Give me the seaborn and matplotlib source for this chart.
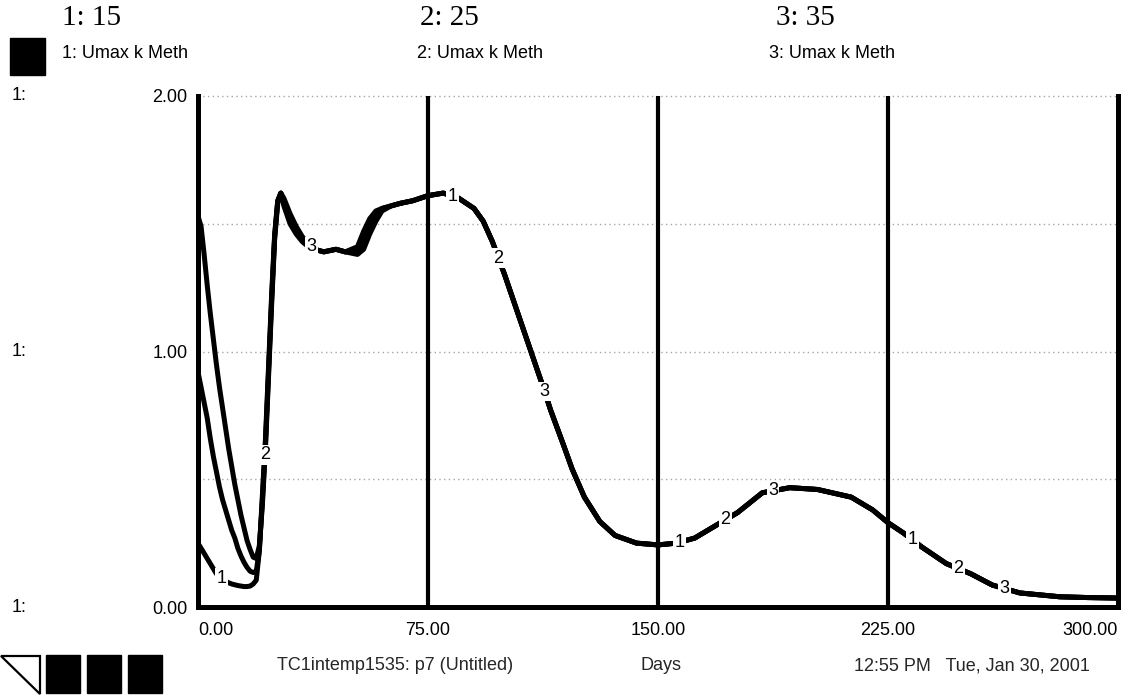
import numpy as np
import pandas as pd
import matplotlib
matplotlib.use("Agg")
import matplotlib.pyplot as plt
from matplotlib.patches import Rectangle, Polygon
from matplotlib.transforms import blended_transform_factory
import seaborn as sns

# ---- simulation output: Umax k Meth for three runs (15, 25, 35) ----
days_early = [0, 1, 2, 3, 4, 5, 6, 7, 8, 9, 10, 11, 12, 13, 14, 15, 16, 17, 18, 19, 20]
umax1_early = [0.25, 0.23, 0.21, 0.19, 0.17, 0.15, 0.13, 0.12, 0.11, 0.10, 0.095, 0.09,
               0.087, 0.084, 0.082, 0.08, 0.08, 0.082, 0.09, 0.105, 0.22]
umax2_early = [0.92, 0.86, 0.80, 0.74, 0.66, 0.59, 0.53, 0.47, 0.42, 0.38, 0.34, 0.30,
               0.27, 0.23, 0.20, 0.175, 0.155, 0.14, 0.135, 0.14, 0.22]
umax3_early = [1.53, 1.49, 1.38, 1.26, 1.15, 1.05, 0.95, 0.86, 0.78, 0.70, 0.62, 0.55,
               0.48, 0.42, 0.36, 0.31, 0.26, 0.225, 0.195, 0.19, 0.24]

days_mid = [21, 22, 23, 24, 25, 26, 27, 28, 30, 32, 34, 36, 38, 41, 45, 48, 52, 54,
            56, 58, 60, 63, 66, 70, 75, 80]
umax1_mid = [0.44, 0.66, 0.94, 1.22, 1.46, 1.59, 1.62, 1.57, 1.50, 1.46, 1.43, 1.41, 1.40,
             1.39, 1.40, 1.39, 1.41, 1.47, 1.52, 1.55, 1.56, 1.57, 1.58, 1.59, 1.61, 1.62]
umax2_mid = [0.42, 0.64, 0.92, 1.20, 1.45, 1.59, 1.62, 1.59, 1.52, 1.47, 1.44, 1.41, 1.40,
             1.39, 1.40, 1.39, 1.39, 1.43, 1.49, 1.53, 1.56, 1.57, 1.58, 1.59, 1.61, 1.62]
umax3_mid = [0.40, 0.62, 0.90, 1.18, 1.44, 1.58, 1.62, 1.60, 1.54, 1.49, 1.45, 1.42, 1.40,
             1.39, 1.40, 1.39, 1.38, 1.40, 1.46, 1.51, 1.55, 1.57, 1.58, 1.59, 1.61, 1.62]

# after day 80 the three runs coincide
days_late = [85, 90, 93, 96, 100, 104, 108, 112, 115, 119, 122, 126, 131, 136, 143, 150,
             156, 162, 169, 176, 184, 193, 202, 213, 220, 225, 230, 236, 244, 252, 259,
             268, 281, 290, 300]
umax_late = [1.60, 1.56, 1.51, 1.43, 1.30, 1.16, 1.02, 0.88, 0.77, 0.64, 0.54, 0.43, 0.335,
             0.28, 0.25, 0.243, 0.25, 0.27, 0.32, 0.37, 0.447, 0.467, 0.46, 0.43, 0.38,
             0.33, 0.29, 0.235, 0.17, 0.13, 0.086, 0.055, 0.04, 0.037, 0.035]

run_names = ["1", "2", "3"]
run_values = ["15", "25", "35"]
series_label = "Umax k Meth"

# curve number markers placed along the traces
marker_days = [7.7, 21.8, 37, 83, 98, 113, 157, 172, 187.5, 233, 248, 263]
marker_runs = ["1", "2", "3", "1", "2", "3", "1", "2", "3", "1", "2", "3"]

x_ticks = [0, 75, 150, 225, 300]
x_ticklabels = ["0.00", "75.00", "150.00", "225.00", "300.00"]
y_ticks = [0, 0.5, 1.0, 1.5, 2.0]
y_ticklabels = ["0.00", "", "1.00", "", "2.00"]

footer_file = "TC1intemp1535: p7 (Untitled)"
footer_units = "Days"
footer_stamp = "12:55 PM   Tue, Jan 30, 2001"

# ---- assemble long-form table ----
early = {"1": umax1_early, "2": umax2_early, "3": umax3_early}
mid = {"1": umax1_mid, "2": umax2_mid, "3": umax3_mid}
frames = []
for r in run_names:
    d = list(days_early) + list(days_mid) + list(days_late)
    v = list(early[r]) + list(mid[r]) + list(umax_late)
    frames.append(pd.DataFrame({"day": d, "value": v, "run": r}))
df = pd.concat(frames, ignore_index=True)

# ---- styling ----
sns.set_theme(style="white")
plt.rcParams["font.family"] = ["Liberation Sans", "DejaVu Sans"]

W, H = 1132, 696
fig = plt.figure(figsize=(W / 100, H / 100), dpi=100)


def fx(px):
    return px / W


def fy(py):
    return 1 - py / H


ax = fig.add_axes([fx(198), fy(607), fx(1118) - fx(198), fy(96) - fy(607)])

sns.lineplot(data=df, x="day", y="value", hue="run", palette=["black"] * 3,
             estimator=None, sort=False, legend=False, lw=3.6, ax=ax, zorder=3)

ax.set_xlim(0, 300)
ax.set_ylim(0, 2)
ax.set_xlabel("")
ax.set_ylabel("")

# dotted horizontal grid, solid vertical dividers
for yv in [0.5, 1.0, 1.5, 2.0]:
    ax.axhline(yv, color="#a5a5a5", lw=1.0, ls=(0, (1, 2.4)), zorder=1, clip_on=False)
for xv in [75, 150, 225]:
    ax.axvline(xv, color="black", lw=3.0, zorder=2)

ax.spines["top"].set_visible(False)
for side in ["left", "bottom", "right"]:
    ax.spines[side].set_color("black")
    ax.spines[side].set_linewidth(3.6)
    ax.spines[side].set_zorder(4)

ax.set_xticks(x_ticks)
ax.set_xticklabels(x_ticklabels)
ax.set_yticks(y_ticks)
ax.set_yticklabels(y_ticklabels)
ax.tick_params(axis="both", which="major", direction="out", length=7, width=3,
               color="black", labelsize=13, labelcolor="black")
ax.tick_params(axis="y", pad=0.5)
ax.tick_params(axis="x", pad=4)
xl = ax.get_xticklabels()
xl[0].set_ha("left")
xl[-1].set_ha("right")

# curve number markers on the traces
curves = {r: (df[df.run == r]["day"].to_numpy(), df[df.run == r]["value"].to_numpy())
          for r in run_names}
for d, r in zip(marker_days, marker_runs):
    xs, ys = curves[r]
    yv = float(np.interp(d, xs, ys))
    ax.text(d, yv, r, ha="center", va="center", fontsize=13, color="black", zorder=6,
            bbox=dict(boxstyle="square,pad=0.08", fc="white", ec="none"))

# scale markers on the left
trans = blended_transform_factory(fig.transFigure, ax.transData)
for yv in [0.0, 1.0, 2.0]:
    ax.text(fx(12), yv, "1:", transform=trans, ha="left", va="center",
            fontsize=13, color="black", clip_on=False)

# header: run values and series names
header_x = [62, 420, 776]
name_x = [62, 417, 769]
for r, val, hx, nx in zip(run_names, run_values, header_x, name_x):
    fig.text(fx(hx), fy(18), f"{r}: {val}", family="Liberation Serif", fontsize=21,
             va="center", ha="left", color="black")
    fig.text(fx(nx), fy(53), f"{r}: {series_label}", fontsize=13, va="center",
             ha="left", color="black")
fig.add_artist(Rectangle((fx(10), fy(75)), fx(45) - fx(10), fy(38) - fy(75),
                         transform=fig.transFigure, color="black"))

# footer: page tools and run info
fig.add_artist(Polygon([(fx(1), fy(656)), (fx(40), fy(656)), (fx(40), fy(694))],
                       closed=True, fill=False, ec="black", lw=1.6,
                       transform=fig.transFigure))
for x0 in [46, 87, 128]:
    fig.add_artist(Rectangle((fx(x0), fy(693)), fx(34), fy(655) - fy(693),
                             transform=fig.transFigure, color="black"))
fig.text(fx(395), fy(666), footer_file, fontsize=13, ha="center", va="center")
fig.text(fx(661), fy(666), footer_units, fontsize=13, ha="center", va="center")
fig.text(fx(1090), fy(666), footer_stamp, fontsize=13, ha="right", va="center")

fig.savefig("out.png", dpi=100)
